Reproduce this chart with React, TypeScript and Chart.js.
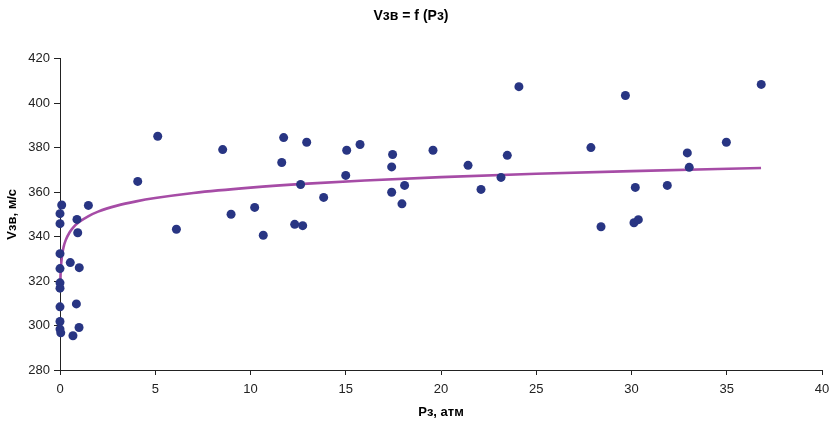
import React, { useEffect, useRef } from "react";
import { Chart, registerables } from "chart.js";

Chart.register(...registerables);

const titleText = "Vзв = f (Pз)";
const xTitle = "Pз, атм";
const yTitle = "Vзв, м/с";

const pressure = [
  0.09, 0.0, 0.0, 0.0, 0.0, 0.0, 0.0, 0.0, 0.0, 0.0, 0.04, 0.68, 1.0, 0.86, 0.54, 1.01, 0.93, 0.89, 1.49,
  4.08, 5.13, 6.11, 8.54, 8.98, 10.22, 10.67, 11.64, 11.74, 12.32, 12.63, 12.74, 12.95, 13.84, 15.0, 15.05, 15.75,
  17.41, 17.41, 17.46, 17.95, 18.09, 19.58,
  21.42, 22.1, 23.15, 23.48, 24.09, 27.87, 28.4, 29.68, 30.13, 30.2, 30.36, 31.88, 32.93, 33.03, 34.98, 36.81,
];
const speed = [
  354.2, 350.3, 345.8, 332.3, 325.6, 319.2, 316.8, 308.4, 301.8, 298.4, 296.7, 295.4, 299.1, 309.7, 328.3, 326.0, 341.7, 347.7, 354.0,
  364.8, 385.1, 343.3, 379.1, 350.0, 353.1, 340.6, 373.3, 384.5, 345.5, 363.4, 344.9, 382.4, 357.6, 367.5, 378.8, 381.4,
  359.9, 371.3, 376.9, 354.7, 363.0, 378.8,
  372.0, 361.2, 366.6, 376.5, 407.4, 380.0, 344.4, 403.4, 346.2, 362.1, 347.6, 363.0, 377.6, 371.1, 382.4, 408.4,
];

const trendX = [0.01, 0.02, 0.03, 0.05, 0.1, 0.2, 0.3, 0.5, 0.7, 1, 1.5, 2, 3, 4, 5, 7, 10, 13, 16, 20, 25, 30, 36.8];
const trendY = [315.5, 320.1, 322.9, 326.3, 331.0, 335.7, 338.4, 341.8, 344.1, 346.5, 349.2, 351.2, 353.9, 355.8, 357.3, 359.6, 362.0, 363.8, 365.2, 366.7, 368.2, 369.4, 370.8];

const xTicks = { min: 0, max: 40, step: 5 };
const yTicks = { min: 280, max: 420, step: 20 };

const FONT = "'Liberation Sans', Arial, sans-serif";

export default function App() {
  const ref = useRef<HTMLCanvasElement | null>(null);

  useEffect(() => {
    if (!ref.current) return;
    const points = pressure.map((x, i) => ({ x, y: speed[i] }));
    const trend = trendX.map((x, i) => ({ x, y: trendY[i] }));
    const chart = new Chart(ref.current, {
      type: "scatter",
      data: {
        datasets: [
          {
            data: points,
            backgroundColor: "#283583",
            borderColor: "#283583",
            pointRadius: 4.5,
            pointHoverRadius: 4.5,
            borderWidth: 0,
            clip: false,
          },
          {
            data: trend,
            showLine: true,
            borderColor: "#A64CA6",
            backgroundColor: "#A64CA6",
            borderWidth: 2.6,
            pointRadius: 0,
            cubicInterpolationMode: "monotone",
            clip: false,
          } as any,
        ],
      },
      options: {
        animation: false,
        responsive: false,
        maintainAspectRatio: false,
        layout: { padding: { left: 0, right: 12, top: 0, bottom: 0 } },
        plugins: {
          legend: { display: false },
          tooltip: { enabled: false },
          title: {
            display: true,
            text: titleText,
            color: "#000",
            font: { family: FONT, size: 14, weight: "bold" },
            padding: { top: 8, bottom: 33.8 },
          },
        },
        scales: {
          x: {
            type: "linear",
            min: xTicks.min,
            max: xTicks.max,
            afterFit: (s: any) => {
              s.height = 53;
              s.paddingLeft = 0;
              s.paddingRight = 0;
            },
            ticks: {
              stepSize: xTicks.step,
              color: "#222",
              font: { family: FONT, size: 13 },
              padding: 7,
              maxRotation: 0,
            },
            grid: { drawOnChartArea: false, drawTicks: true, tickLength: 5, color: "#222" },
            border: { color: "#222", width: 1 },
            title: {
              display: true,
              text: xTitle,
              color: "#000",
              font: { family: FONT, size: 13, weight: "bold" },
              padding: { top: 0, bottom: 3 },
            },
          },
          y: {
            type: "linear",
            min: yTicks.min,
            max: yTicks.max,
            afterFit: (s: any) => {
              s.width = 60;
              s.paddingTop = 0;
              s.paddingBottom = 0;
            },
            ticks: {
              stepSize: yTicks.step,
              color: "#222",
              font: { family: FONT, size: 13 },
              padding: 4,
            },
            grid: { drawOnChartArea: false, drawTicks: true, tickLength: 6, color: "#222" },
            border: { color: "#222", width: 1 },
            title: {
              display: true,
              text: yTitle,
              color: "#000",
              font: { family: FONT, size: 13, weight: "bold" },
              padding: { top: 5, bottom: 0 },
            },
          },
        },
      },
    });
    return () => chart.destroy();
  }, []);

  return (
    <div style={{ position: "fixed", left: 0, top: 0, width: 834, height: 423, background: "#fff" }}>
      <canvas ref={ref} width={834} height={423} style={{ width: 834, height: 423 }} />
    </div>
  );
}
